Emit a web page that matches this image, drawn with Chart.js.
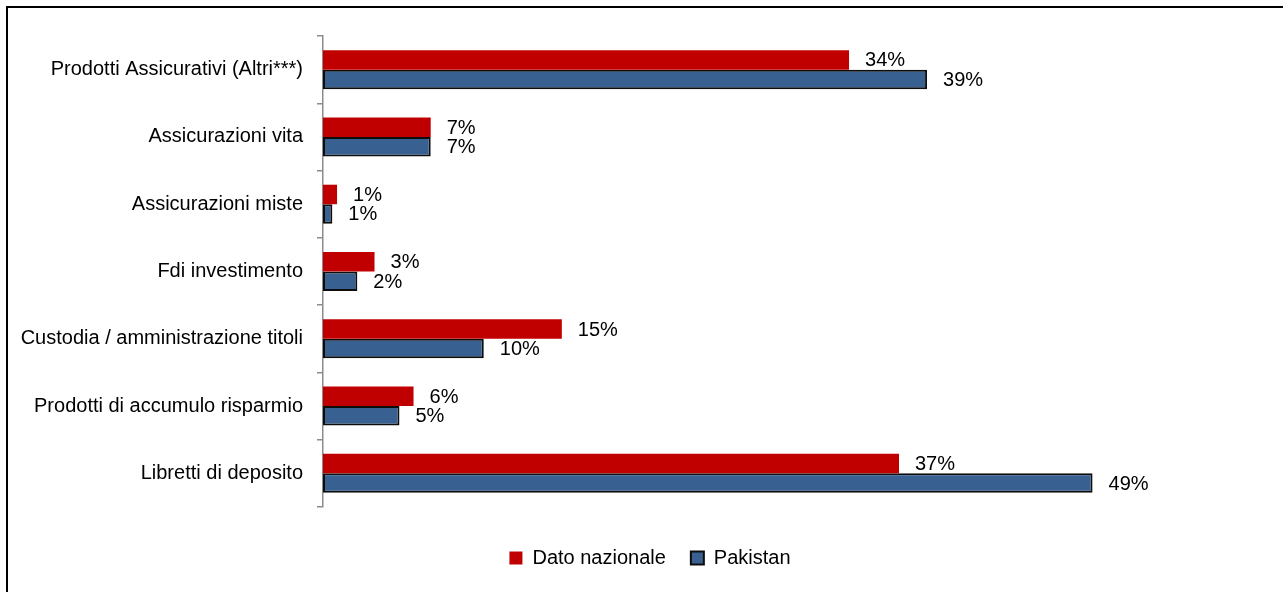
<!DOCTYPE html>
<html>
<head>
<meta charset="utf-8">
<script src="https://cdn.jsdelivr.net/npm/chart.js@4"></script>
<style>
  html, body { margin: 0; padding: 0; background: #fff; overflow: hidden; }
  #frame {
    position: absolute; left: 6px; top: 6px; width: 1400px; height: 700px;
    border-left: 2px solid #000; border-top: 2px solid #000;
    pointer-events: none;
  }
  canvas { position: absolute; left: 0; top: 0; }
</style>
</head>
<body>
<canvas id="myChart" width="1283" height="592"></canvas>
<div id="frame"></div>
<script>
// categories top -> bottom
const categories = [
    "Prodotti Assicurativi (Altri***)",
    "Assicurazioni vita",
    "Assicurazioni miste",
    "Fdi investimento",
    "Custodia / amministrazione titoli",
    "Prodotti di accumulo risparmio",
    "Libretti di deposito"
]
// values in %
const datoNazionale = [33.7, 6.9, 0.9, 3.3, 15.3, 5.8, 36.9]
const pakistan = [38.7, 6.9, 0.6, 2.2, 10.3, 4.9, 49.3]
const seriesNames = ["Dato nazionale", "Pakistan"]

const FONT = "'Liberation Sans', Arial, sans-serif"
const FONT_SIZE = 20

// labels at the end of each bar
const barLabels = {
    id: "barLabels",
    afterDatasetsDraw(chart) {
        const ctx = chart.ctx
        ctx.save()
        ctx.font = FONT_SIZE + "px " + FONT
        ctx.fillStyle = "#000"
        ctx.textAlign = "left"
        ctx.textBaseline = "middle"
        chart.data.datasets.forEach((ds, i) => {
            const meta = chart.getDatasetMeta(i)
            meta.data.forEach((bar, j) => {
                ctx.fillText(Math.round(ds.data[j]) + "%", bar.x + 16, bar.y + 1)
            })
        })
        ctx.restore()
    }
}

new Chart("myChart", {
    type: "bar",
    data: {
        labels: categories,
        datasets: [{
            label: seriesNames[0],
            data: datoNazionale,
            backgroundColor: "#c00000",
            borderWidth: 0,
            categoryPercentage: 0.58,
            barPercentage: 1
        }, {
            label: seriesNames[1],
            data: pakistan,
            backgroundColor: "#386192",
            borderColor: "#0d0d0d",
            borderWidth: 2,
            borderSkipped: false,
            categoryPercentage: 0.58,
            barPercentage: 1
        }]
    },
    options: {
        indexAxis: "y",
        responsive: false,
        animation: false,
        devicePixelRatio: 1,
        // negative right padding pushes the centred legend to the right like the original
        layout: { padding: { top: 36, right: -17, bottom: 14, left: 0 } },
        scales: {
            x: {
                min: 0,
                max: 61.5,
                ticks: { display: false },
                grid: { display: false },
                border: { display: false },
                afterFit: (scale) => { scale.height = 16 }
            },
            y: {
                grid: {
                    drawOnChartArea: false,
                    drawTicks: true,
                    tickLength: 6,
                    color: "#8c8c8c",
                    lineWidth: 1.5
                },
                border: { display: true, color: "#8c8c8c", width: 1.5 },
                ticks: {
                    color: "#000",
                    padding: 14,
                    font: { family: FONT, size: FONT_SIZE }
                },
                afterFit: (scale) => { scale.width = 323 }
            }
        },
        plugins: {
            tooltip: { enabled: false },
            legend: {
                position: "bottom",
                labels: {
                    color: "#000",
                    boxWidth: 13,
                    boxHeight: 13,
                    padding: 25,
                    font: { family: FONT, size: FONT_SIZE }
                }
            }
        }
    },
    plugins: [barLabels]
});
</script>
</body>
</html>
